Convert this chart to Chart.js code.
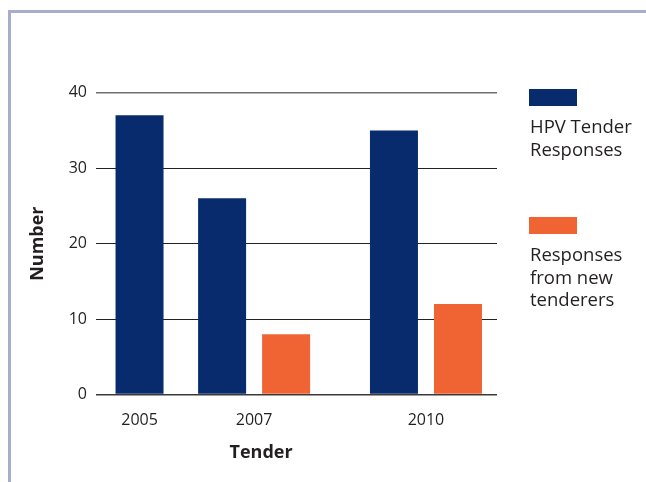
<!DOCTYPE html>
<html>
<head>
<meta charset="utf-8">
<script src="https://cdn.jsdelivr.net/npm/chart.js@4.4.1/dist/chart.umd.min.js"></script>
<style>
  html, body { margin: 0; padding: 0; background: #fff; }
  #wrap { position: relative; width: 646px; height: 482px; overflow: hidden; background: #fff; }
  #chart { position: absolute; left: 0; top: 0; }
  #frame { position: absolute; left: 8px; top: 10px; width: 660px; height: 500px;
           border-top: 3px solid #a7adcd; border-left: 3px solid #a7adcd; pointer-events: none; }
  #legend { position: absolute; left: 529px; top: 89px; font-family: 'Open Sans', sans-serif;
            font-size: 18.5px; color: #231f20; }
  .item { margin-bottom: 0; }
  .sw { width: 48px; height: 17px; }
  .tx { width: 112px; line-height: 22.5px; margin-top: 9px; margin-left: 1px; }
</style>
</head>
<body>
<div id="wrap">
  <canvas id="chart" width="646" height="482"></canvas>
  <div id="frame"></div>
  <div id="legend"></div>
</div>
<script>
const categories = [2005, 2007, 2010];
const hpvResponses = [37, 26, 35];
const newTenderers = [null, 8, 12];
const yTicks = [0, 10, 20, 30, 40];
const seriesNames = ['HPV Tender Responses', 'Responses from new tenderers'];
const seriesColors = ['#072b6c', '#f06434'];
const xTitle = 'Tender';
const yTitle = 'Number';

const textColor = '#231f20';

const xTitlePlugin = {
  id: 'xTitleUnderMiddle',
  afterDraw(chart) {
    const { ctx, scales: { x } } = chart;
    ctx.save();
    ctx.font = "bold 18px 'Open Sans'";
    ctx.fillStyle = textColor;
    ctx.textAlign = 'center';
    ctx.textBaseline = 'alphabetic';
    ctx.fillText(xTitle, x.getPixelForValue(categories[1]) + 7, x.bottom - 24.5);
    ctx.restore();
  }
};

const chart = new Chart(document.getElementById('chart'), {
  type: 'bar',
  data: {
    labels: categories,
    datasets: [
      { label: seriesNames[0], data: hpvResponses, backgroundColor: seriesColors[0] },
      { label: seriesNames[1], data: newTenderers, backgroundColor: seriesColors[1] }
    ]
  },
  options: {
    responsive: false,
    animation: false,
    skipNull: true,
    categoryPercentage: 1.1175,
    barPercentage: 0.75,
    maxBarThickness: 48,
    layout: { padding: { left: 0, right: 149, top: 92.7, bottom: 0 } },
    plugins: {
      legend: { display: false },
      tooltip: { enabled: false }
    },
    scales: {
      x: {
        type: 'linear',
        min: 2004.24,
        max: 2011.24,
        offset: false,
        grid: { display: false, offset: false, drawTicks: false },
        border: { display: false },
        afterBuildTicks: s => { s.ticks = categories.map(v => ({ value: v })); },
        afterFit: s => { s.height = 87.4; },
        ticks: {
          padding: 16,
          color: textColor,
          font: { family: 'Open Sans', size: 16 },
          maxRotation: 0,
          autoSkip: false,
          callback: v => String(v)
        }
      },
      y: {
        min: 0,
        max: 40,
        afterBuildTicks: s => { s.ticks = yTicks.map(v => ({ value: v })); },
        afterFit: s => { s.width = 96; },
        border: { display: false },
        grid: {
          drawTicks: false,
          color: c => (c.tick && c.tick.value === 40) ? '#707070' : (c.tick && c.tick.value === 0 ? '#3a3a3a' : '#222'),
          lineWidth: c => (c.tick && (c.tick.value === 0 || c.tick.value === 40)) ? 1.5 : 1
        },
        ticks: {
          padding: 9,
          color: textColor,
          font: { family: 'Open Sans', size: 16 },
          callback: v => String(v)
        },
        title: {
          display: true,
          text: yTitle,
          color: textColor,
          font: { family: 'Open Sans', size: 18, weight: 'bold' },
          padding: { top: 27, bottom: 0 }
        }
      }
    }
  },
  plugins: [xTitlePlugin]
});

// HTML legend built from the chart's datasets
const legend = document.getElementById('legend');
const itemGaps = [0, 57];
chart.data.datasets.forEach((ds, i) => {
  const item = document.createElement('div');
  item.className = 'item';
  item.style.marginTop = itemGaps[i] + 'px';
  const sw = document.createElement('div');
  sw.className = 'sw';
  sw.style.background = ds.backgroundColor;
  const tx = document.createElement('div');
  tx.className = 'tx';
  tx.textContent = ds.label;
  item.appendChild(sw);
  item.appendChild(tx);
  legend.appendChild(item);
});
</script>
</body>
</html>
